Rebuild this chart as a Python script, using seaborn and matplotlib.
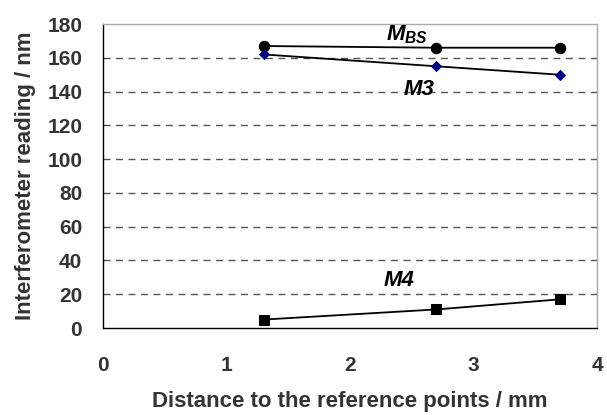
import matplotlib
matplotlib.use("Agg")
import matplotlib.pyplot as plt
import seaborn as sns
import pandas as pd

# Data
distance = [1.3, 2.7, 3.7]
m_bs = [167, 166, 166]
m3 = [162, 155, 150]
m4 = [5, 11, 17]

sns.set_theme(style="white")
plt.rcParams["font.family"] = ["Liberation Sans", "DejaVu Sans"]
plt.rcParams["mathtext.fontset"] = "custom"
plt.rcParams["mathtext.it"] = "Liberation Sans:bold:italic"
plt.rcParams["mathtext.rm"] = "Liberation Sans:bold:italic"

text_col = "#333333"

fig = plt.figure(figsize=(6.07, 4.15), dpi=100)
ax = fig.add_axes([0.1697, 0.2096, 0.8138, 0.7324])

# Dashed horizontal grid lines
for yv in range(20, 180, 20):
    ax.axhline(yv, color="#555555", lw=1, ls=(0, (5, 4)), zorder=0)

df = pd.DataFrame({"x": distance, "MBS": m_bs, "M3": m3, "M4": m4})

sns.lineplot(data=df, x="x", y="MBS", ax=ax, color="black", lw=1.3,
             marker="o", markersize=7.5, markerfacecolor="black",
             markeredgecolor="black")
sns.lineplot(data=df, x="x", y="M3", ax=ax, color="black", lw=1.3,
             marker="D", markersize=5.5, markerfacecolor="#000080",
             markeredgecolor="#000080")
sns.lineplot(data=df, x="x", y="M4", ax=ax, color="black", lw=1.3,
             marker="s", markersize=7.5, markerfacecolor="black",
             markeredgecolor="black")

# Series labels
ax.text(2.46, 174, r"$M_{BS}$", fontsize=16, ha="center", va="center",
        color="black")
ax.text(2.56, 141, "M3", fontsize=16, ha="center", va="center",
        fontweight="bold", fontstyle="italic", color="black")
ax.text(2.4, 28, "M4", fontsize=16, ha="center", va="center",
        fontweight="bold", fontstyle="italic", color="black")

ax.set_xlim(0, 4)
ax.set_ylim(0, 180)
ax.set_xticks(range(0, 5))
ax.set_yticks(range(0, 181, 20))

for s in ["left", "bottom"]:
    ax.spines[s].set_color("black")
    ax.spines[s].set_linewidth(1)
for s in ["top", "right"]:
    ax.spines[s].set_color("#aaaaaa")
    ax.spines[s].set_linewidth(1)

ax.tick_params(axis="both", direction="out", length=5, width=1,
               color="black", labelsize=15, labelcolor=text_col, pad=10)
ax.tick_params(axis="x", pad=15)
for lbl in ax.get_xticklabels() + ax.get_yticklabels():
    lbl.set_fontweight("bold")

ax.set_xlabel("Distance to the reference points / mm", fontsize=16,
              fontweight="bold", color=text_col, labelpad=12)
ax.set_ylabel("Interferometer reading / nm", fontsize=16,
              fontweight="bold", color=text_col, labelpad=8)

fig.savefig("out.png", dpi=100)
